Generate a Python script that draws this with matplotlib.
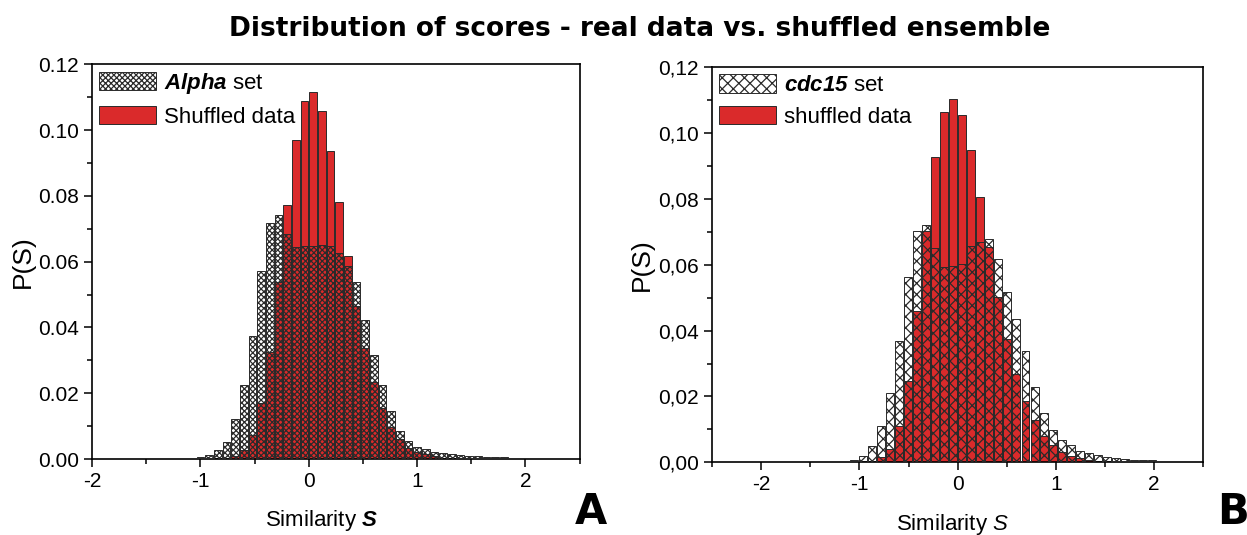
import numpy as np
import matplotlib
matplotlib.use('Agg')
import matplotlib.pyplot as plt
from matplotlib.patches import Patch
from matplotlib.ticker import MultipleLocator, FuncFormatter

plt.rcParams['font.family'] = ['Liberation Sans', 'DejaVu Sans']
plt.rcParams['mathtext.fontset'] = 'custom'
plt.rcParams['mathtext.rm'] = 'Liberation Sans'
plt.rcParams['mathtext.it'] = 'Liberation Sans:italic'
plt.rcParams['mathtext.bf'] = 'Liberation Sans:bold'
plt.rcParams['mathtext.bfit'] = 'Liberation Sans:italic:bold'
plt.rcParams['hatch.linewidth'] = 0.9

# ---- data ----
# panel A : bin width 0.08, first bin index -14
binw_a = 0.08
first_a = -14
alpha_set = [0.0002, 0.0005, 0.0012, 0.0027, 0.0053, 0.0122, 0.0225, 0.0375, 0.0572, 0.0716,
             0.0741, 0.0684, 0.0643, 0.0647, 0.0647, 0.0650, 0.0647, 0.0625, 0.0586, 0.0539,
             0.0422, 0.0316, 0.0225, 0.0146, 0.0086, 0.0055, 0.0037, 0.0029, 0.0022, 0.0018,
             0.0014, 0.0011, 0.0009, 0.0008, 0.0007, 0.0006, 0.0005, 0.0004, 0.0003]
shuffled_a = [0.0, 0.0, 0.0001, 0.0002, 0.0004, 0.0010, 0.0027, 0.0073, 0.0169, 0.0326,
              0.0539, 0.0772, 0.0969, 0.1089, 0.1116, 0.1058, 0.0937, 0.0782, 0.0618, 0.0466,
              0.0336, 0.0233, 0.0156, 0.0098, 0.0060, 0.0034, 0.0022, 0.0014, 0.0008, 0.0004,
              0.0002, 0.0001, 0.0, 0.0, 0.0, 0.0, 0.0, 0.0, 0.0]

# panel B : bin width 0.092, first bin index -14
binw_b = 0.092
first_b = -14
cdc15_set = [0.0001, 0.0002, 0.0006, 0.0020, 0.0050, 0.0110, 0.0210, 0.0370, 0.0562, 0.0702,
             0.0721, 0.0651, 0.0592, 0.0595, 0.0603, 0.0658, 0.0670, 0.0678, 0.0618, 0.0518,
             0.0435, 0.0339, 0.0228, 0.0149, 0.0098, 0.0068, 0.0051, 0.0035, 0.0027, 0.0021,
             0.0017, 0.0013, 0.0010, 0.0008, 0.0007, 0.0006, 0.0005, 0.0004, 0.0003, 0.0002]
shuffled_b = [0.0, 0.0, 0.0001, 0.0003, 0.0005, 0.0015, 0.0040, 0.0111, 0.0248, 0.0461,
              0.0704, 0.0927, 0.1065, 0.1104, 0.1056, 0.0949, 0.0807, 0.0653, 0.0503, 0.0375,
              0.0268, 0.0187, 0.0127, 0.0081, 0.0053, 0.0030, 0.0020, 0.0012, 0.0008, 0.0005,
              0.0003, 0.0002, 0.0001, 0.0, 0.0, 0.0, 0.0, 0.0, 0.0, 0.0]

red = '#da2a2b'
edge = '#2a2a2a'

fig = plt.figure(figsize=(12.47, 5.35), dpi=100)
axA = fig.add_axes([0.0738, 0.142, 0.391, 0.738])
axB = fig.add_axes([0.571, 0.136, 0.394, 0.738])


def draw_panel(ax, real, shuf, binw, first, hatch, xlim, label, slabel, comma, xlab_x):
    left = (np.arange(len(real)) + first) * binw
    ax.bar(left + 0.06 * binw, shuf, width=0.88 * binw, align='edge',
           color=red, edgecolor=edge, linewidth=0.7, zorder=2)
    ax.bar(left + 0.06 * binw, real, width=0.88 * binw, align='edge',
           facecolor='none', edgecolor=edge, hatch=hatch, linewidth=0.7, zorder=3)
    ax.set_xlim(*xlim)
    ax.set_ylim(0, 0.12)
    ax.xaxis.set_major_locator(MultipleLocator(1))
    ax.xaxis.set_minor_locator(MultipleLocator(0.5))
    ax.yaxis.set_major_locator(MultipleLocator(0.02))
    ax.yaxis.set_minor_locator(MultipleLocator(0.01))
    if comma:
        ax.yaxis.set_major_formatter(FuncFormatter(lambda v, p: ('%.2f' % v).replace('.', ',')))
    else:
        ax.yaxis.set_major_formatter(FuncFormatter(lambda v, p: '%.2f' % v))
    ax.xaxis.set_major_formatter(FuncFormatter(lambda v, p: '%d' % round(v)))
    ax.tick_params(which='major', direction='out', length=6, width=1.1, labelsize=15)
    ax.tick_params(which='minor', direction='out', length=3.5, width=1.1)
    for s in ax.spines.values():
        s.set_linewidth(1.2)
    ax.set_ylabel('P(S)', fontsize=19)
    ax.yaxis.set_label_coords(-0.118, 0.5)
    ax.set_xlabel(slabel, fontsize=16)
    ax.xaxis.set_label_coords(xlab_x, -0.125)
    handles = [Patch(facecolor='white', edgecolor=edge, hatch=hatch, linewidth=0.7),
               Patch(facecolor=red, edgecolor=edge, linewidth=0.7)]
    ax.legend(handles, label, loc='upper left', frameon=False, fontsize=16,
              handlelength=2.6, handleheight=0.9, handletextpad=0.35,
              labelspacing=0.45, borderaxespad=0.2, borderpad=0.1)


draw_panel(axA, alpha_set, shuffled_a, binw_a, first_a, 'xxxxxx', (-2, 2.5),
           [r'$\mathbfit{Alpha}$ set', 'Shuffled data'], r'Similarity $\mathbfit{S}$', False, 0.47)
draw_panel(axB, cdc15_set, shuffled_b, binw_b, first_b, 'xxx', (-2.5, 2.5),
           [r'$\mathbfit{cdc15}$ set', 'shuffled data'], r'Similarity $\mathit{S}$', True, 0.49)

fig.text(0.513, 0.946, 'Distribution of scores - real data vs. shuffled ensemble',
         ha='center', va='center', fontsize=19, fontweight='bold', family='DejaVu Sans')
fig.text(0.461, 0.02, 'A', fontsize=30, fontweight='bold', family='DejaVu Sans')
fig.text(0.976, 0.02, 'B', fontsize=30, fontweight='bold', family='DejaVu Sans')

fig.savefig('out.png', dpi=100)
